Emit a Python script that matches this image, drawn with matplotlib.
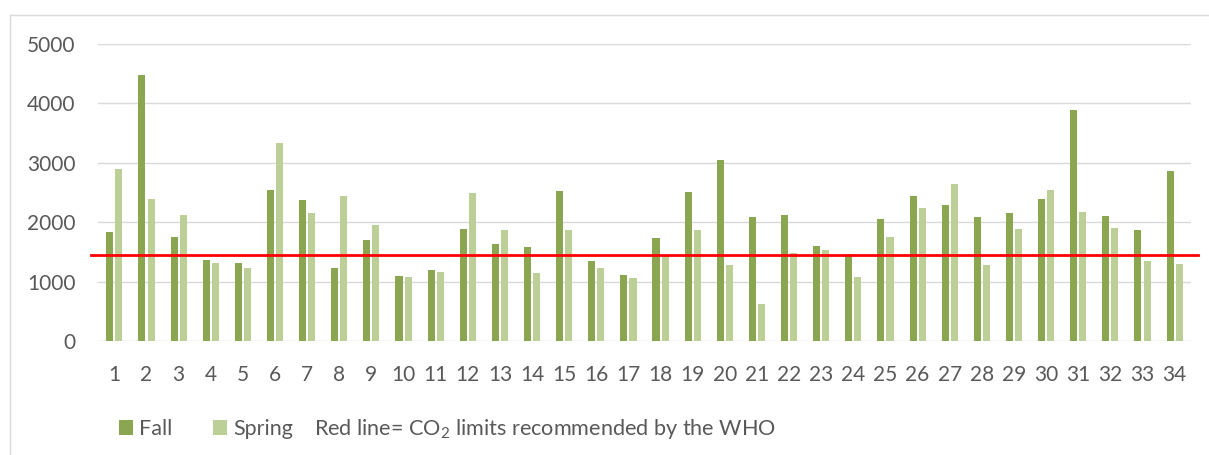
import numpy as np
import matplotlib
matplotlib.use('Agg')
import matplotlib.pyplot as plt
from matplotlib.lines import Line2D

# data
schools = [str(i) for i in range(1, 35)]
fall = [1830, 4470, 1760, 1370, 1310, 2540, 2370, 1230, 1710, 1100,
        1190, 1890, 1640, 1590, 2530, 1350, 1120, 1730, 2510, 3050,
        2090, 2120, 1600, 1460, 2050, 2440, 2290, 2090, 2160, 2390,
        3890, 2100, 1870, 2860]
spring = [2900, 2390, 2130, 1320, 1230, 3330, 2150, 2440, 1950, 1080,
          1170, 2490, 1870, 1150, 1870, 1230, 1060, 1430, 1870, 1290,
          630, 1480, 1530, 1080, 1750, 2240, 2650, 1280, 1880, 2540,
          2180, 1900, 1350, 1300]
who_limit = 1450
yticks = [0, 1000, 2000, 3000, 4000, 5000]

fall_color = '#8BA650'
spring_color = '#BBCF97'
text_color = '#595959'
grid_color = '#D9D9D9'

plt.rcParams['font.family'] = ['Lato', 'DejaVu Sans']
plt.rcParams['mathtext.fontset'] = 'custom'
plt.rcParams['mathtext.rm'] = 'Lato'

W, H = 1209, 455
fig = plt.figure(figsize=(W / 100, H / 100), dpi=100)
ax = fig.add_axes([98.3 / W, 1 - 341.3 / H, (1190.7 - 98.3) / W, (341.3 - 43.7) / H])

x = np.arange(len(schools))
w = 0.22
b1 = ax.bar(x - 0.142, fall, w, color=fall_color, label='Fall', zorder=2)
b2 = ax.bar(x + 0.142, spring, w, color=spring_color, label='Spring', zorder=2)

# WHO limit, drawn a little wider than the plot area
ax.axhline(who_limit, xmin=-0.007, xmax=1.007, color='#FF0000', lw=2.0,
           zorder=3, clip_on=False)

ax.set_xlim(-0.5, len(schools) - 0.5)
ax.set_ylim(0, 5000)
ax.set_yticks(yticks)
ax.set_xticks(x)
ax.set_xticklabels(schools)
ax.grid(axis='y', color=grid_color, lw=1.0, zorder=0)
ax.set_axisbelow(True)
for s in ax.spines.values():
    s.set_visible(False)
ax.tick_params(axis='both', length=0, labelsize=15, colors=text_color)
ax.tick_params(axis='x', pad=17)
ax.tick_params(axis='y', pad=16.5)

# legend
fig.legend(handles=[b1, b2], labels=['Fall', 'Spring'], loc='center left',
           bbox_to_anchor=(119 / W, 1 - 429 / H), ncol=2, frameon=False,
           fontsize=15.5, labelcolor=text_color, borderpad=0, borderaxespad=0,
           handlelength=0.65, handleheight=0.65, handletextpad=0.29,
           columnspacing=1.9)
fig.text(314 / W, 1 - 429 / H, r'Red line= CO$_\mathregular{2}$ limits recommended by the WHO',
         fontsize=15.6, color=text_color, va='center', ha='left')

# chart frame (top and left edge visible)
fig.add_artist(Line2D([10 / W, 1.0], [1 - 15 / H, 1 - 15 / H], transform=fig.transFigure,
                      color=grid_color, lw=1.0))
fig.add_artist(Line2D([10 / W, 10 / W], [1 - 15 / H, 0.0], transform=fig.transFigure,
                      color=grid_color, lw=1.0))

fig.savefig('out.png', dpi=100)
